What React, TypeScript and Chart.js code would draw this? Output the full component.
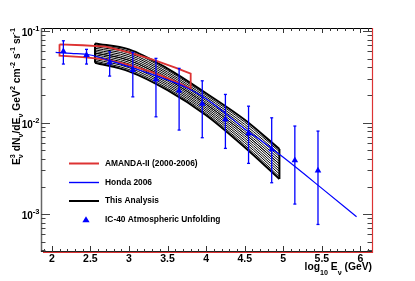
import React, { useEffect, useRef } from "react";
import { Chart, registerables } from "chart.js";

Chart.register(...registerables);

// ---------- data ----------
// IC-40 atmospheric unfolding (log10 E, E^3 dN/dE and error bar ends)
const unfoldLog10E = [2.15, 2.45, 2.75, 3.05, 3.35, 3.65, 3.95, 4.25, 4.55, 4.85, 5.15, 5.45];
const unfoldFlux = [0.06, 0.0547, 0.0451, 0.0375, 0.0297, 0.0223, 0.016, 0.01084, 0.00762, 0.00509, 0.00386, 0.00299];
const unfoldUpper = [0.0783, 0.0631, 0.0594, 0.0585, 0.0503, 0.0391, 0.0286, 0.0203, 0.0151, 0.01127, 0.00916, 0.00807];
const unfoldLower = [0.0436, 0.0436, 0.0322, 0.0191, 0.01156, 0.00828, 0.00683, 0.00522, 0.00358, 0.0022, 0.001286, 0.00077];

// Honda 2006 conventional flux
const hondaLog10E = [2.05, 2.25, 2.5, 2.75, 3.0, 3.25, 3.5, 3.75, 4.0, 4.25, 4.5, 4.75, 5.0, 5.5, 5.95];
const hondaFlux = [0.0586, 0.0571, 0.0547, 0.0476, 0.0407, 0.0347, 0.0292, 0.024, 0.0182, 0.0126, 0.00851, 0.00603, 0.00417, 0.00191, 0.000933];

// AMANDA-II (2000-2006) band
const amandaLog10E = [2.1, 2.4, 2.7, 3.0, 3.3, 3.6, 3.8];
const amandaUpper = [0.0716, 0.07, 0.0676, 0.0586, 0.049, 0.0398, 0.0343];
const amandaLower = [0.0537, 0.0519, 0.049, 0.0427, 0.0355, 0.0282, 0.0234];

// This analysis: set of band outlines (upper / lower edge of each band)
const bandLog10E = [2.56, 3.0, 3.5, 4.0, 4.5, 4.95];
const analysisUpper = [
  [0.0733, 0.0631, 0.0389, 0.0209, 0.01072, 0.00513],
  [0.0704, 0.0603, 0.0372, 0.01995, 0.01012, 0.00482],
  [0.0676, 0.0575, 0.03555, 0.01905, 0.00955, 0.00452],
  [0.0649, 0.055, 0.034, 0.0182, 0.00902, 0.00425],
  [0.0623, 0.0525, 0.0325, 0.01738, 0.00851, 0.00399],
  [0.0599, 0.0501, 0.03105, 0.0166, 0.00804, 0.00375],
  [0.0575, 0.0479, 0.0297, 0.01585, 0.00759, 0.00352],
];
const analysisLower = [
  [0.0575, 0.0479, 0.0297, 0.01585, 0.00759, 0.00352],
  [0.0552, 0.0457, 0.02838, 0.01514, 0.00716, 0.00331],
  [0.053, 0.0437, 0.02712, 0.01445, 0.00676, 0.0031],
  [0.0509, 0.0417, 0.02593, 0.0138, 0.00638, 0.00292],
  [0.0489, 0.0398, 0.02479, 0.01318, 0.00603, 0.00274],
  [0.047, 0.038, 0.02369, 0.01259, 0.00569, 0.00257],
  [0.0451, 0.0363, 0.0226, 0.01202, 0.00537, 0.00242],
];

const xTickLabels = ["2", "2.5", "3", "3.5", "4", "4.5", "5", "5.5", "6"];
const yTickExponents = ["-3", "-2", "-1"];
const legendLabels = ["AMANDA-II (2000-2006)", "Honda 2006", "This Analysis", "IC-40 Atmospheric Unfolding"];

const X_MIN = 1.86;
const X_MAX = 6.15;
const Y_MIN = 3.85e-4;
const Y_MAX = 0.108;

const RED = "#dd3333";
const BLUE = "#0000ff";
const FONT = '"Liberation Sans", Arial, Helvetica, sans-serif';

type Seg = { text: string; sup?: string; sub?: string };

function segsWidth(ctx: CanvasRenderingContext2D, segs: Seg[], size: number, small: number) {
  let w = 0;
  for (const s of segs) {
    ctx.font = `bold ${size}px ${FONT}`;
    w += ctx.measureText(s.text).width;
    ctx.font = `bold ${small}px ${FONT}`;
    const a = s.sup ? ctx.measureText(s.sup).width : 0;
    const b = s.sub ? ctx.measureText(s.sub).width : 0;
    w += Math.max(a, b);
  }
  return w;
}

function drawSegs(
  ctx: CanvasRenderingContext2D,
  segs: Seg[],
  x: number,
  y: number,
  size: number,
  small: number,
  supRaise: number,
  subDrop: number
) {
  let cx = x;
  ctx.textAlign = "left";
  ctx.textBaseline = "alphabetic";
  for (const s of segs) {
    ctx.font = `bold ${size}px ${FONT}`;
    ctx.fillText(s.text, cx, y);
    cx += ctx.measureText(s.text).width;
    ctx.font = `bold ${small}px ${FONT}`;
    let w = 0;
    if (s.sup) {
      ctx.fillText(s.sup, cx, y - supRaise);
      w = Math.max(w, ctx.measureText(s.sup).width);
    }
    if (s.sub) {
      ctx.fillText(s.sub, cx, y + subDrop);
      w = Math.max(w, ctx.measureText(s.sub).width);
    }
    cx += w;
  }
}

function triangle(ctx: CanvasRenderingContext2D, x: number, y: number, r: number) {
  ctx.beginPath();
  ctx.moveTo(x, y - r);
  ctx.lineTo(x + r * 0.95, y + r * 0.6);
  ctx.lineTo(x - r * 0.95, y + r * 0.6);
  ctx.closePath();
  ctx.fill();
}

function line(ctx: CanvasRenderingContext2D, color: string, w: number, x1: number, y1: number, x2: number, y2: number) {
  ctx.strokeStyle = color;
  ctx.lineWidth = w;
  ctx.beginPath();
  ctx.moveTo(x1, y1);
  ctx.lineTo(x2, y2);
  ctx.stroke();
}

const pts = (xs: number[], ys: number[]) => xs.map((x, i) => ({ x, y: ys[i] }));

export default function App() {
  const ref = useRef<HTMLCanvasElement>(null);

  useEffect(() => {
    const canvas = ref.current;
    if (!canvas) return;

    const datasets: any[] = [];
    const nb = analysisUpper.length - 1;
    for (let j = 0; j < analysisUpper.length; j++) {
      datasets.push({
        data: pts(bandLog10E, analysisUpper[j]),
        borderColor: "#000",
        borderWidth: j === 0 ? 2 : 1,
        pointRadius: 0,
        cubicInterpolationMode: "monotone",
        fill: false,
        order: 4,
      });
      datasets.push({
        data: pts(bandLog10E, analysisLower[j]),
        borderColor: "#000",
        borderWidth: j === nb ? 2 : 1,
        pointRadius: 0,
        cubicInterpolationMode: "monotone",
        fill: false,
        order: 4,
      });
    }
    const last = bandLog10E.length - 1;
    datasets.push({
      data: [
        { x: bandLog10E[0], y: analysisUpper[0][0] },
        { x: bandLog10E[0], y: analysisLower[nb][0] },
      ],
      borderColor: "#000",
      borderWidth: 2,
      pointRadius: 0,
      tension: 0,
      order: 4,
    });
    datasets.push({
      data: [
        { x: bandLog10E[last], y: analysisUpper[0][last] },
        { x: bandLog10E[last], y: analysisLower[nb][last] },
      ],
      borderColor: "#000",
      borderWidth: 2,
      pointRadius: 0,
      tension: 0,
      order: 4,
    });
    const amandaPoly = [
      ...pts(amandaLog10E, amandaUpper),
      ...pts(amandaLog10E, amandaLower).reverse(),
      { x: amandaLog10E[0], y: amandaUpper[0] },
    ];
    datasets.push({
      data: amandaPoly,
      borderColor: RED,
      borderWidth: 1.8,
      pointRadius: 0,
      tension: 0,
      fill: false,
      order: 3,
    });
    datasets.push({
      data: pts(hondaLog10E, hondaFlux),
      borderColor: BLUE,
      borderWidth: 1.2,
      pointRadius: 0,
      cubicInterpolationMode: "monotone",
      fill: false,
      order: 2,
    });
    const unfoldIndex = datasets.length;
    datasets.push({
      data: pts(unfoldLog10E, unfoldFlux),
      showLine: false,
      borderColor: BLUE,
      pointStyle: "triangle",
      pointRadius: 3.8,
      pointBackgroundColor: BLUE,
      pointBorderColor: BLUE,
      pointBorderWidth: 0,
      order: 1,
    });

    const overlay = {
      id: "overlay",
      beforeDatasetDraw(chart: any, args: any) {
        if (args.index !== unfoldIndex) return;
        const { ctx, chartArea: a, scales } = chart;
        ctx.save();
        ctx.beginPath();
        ctx.rect(a.left, a.top, a.right - a.left, a.bottom - a.top);
        ctx.clip();
        for (let i = 0; i < unfoldLog10E.length; i++) {
          const px = scales.x.getPixelForValue(unfoldLog10E[i]);
          const t = scales.y.getPixelForValue(unfoldUpper[i]);
          const b = scales.y.getPixelForValue(unfoldLower[i]);
          line(ctx, BLUE, 1.3, px, t, px, b);
          line(ctx, BLUE, 1.3, px - 1.5, t, px + 1.5, t);
          line(ctx, BLUE, 1.3, px - 1.5, b, px + 1.5, b);
        }
        ctx.restore();
      },
      afterDraw(chart: any) {
        const { ctx, chartArea: a, scales } = chart;
        const xs = scales.x;
        const ys = scales.y;
        ctx.save();
        // frame
        line(ctx, "#000", 1.2, a.left, a.top + 0.5, a.right, a.top + 0.5);
        line(ctx, "#666", 1.5, a.left + 0.5, a.top, a.left + 0.5, a.bottom);
        line(ctx, "#222", 1, a.left, a.bottom - 0.5, a.right, a.bottom - 0.5);
        line(ctx, RED, 1, a.left + 2, a.bottom + 0.5, a.right + 1, a.bottom + 0.5);
        line(ctx, RED, 1.2, a.right + 0.5, a.top, a.right + 0.5, a.bottom + 1);

        // ticks
        for (let i = 19; i <= 61; i++) {
          const v = i / 10;
          const px = Math.round(xs.getPixelForValue(v)) + 0.5;
          const major = i % 5 === 0;
          line(ctx, "#333", 1, px, a.bottom, px, a.bottom - (major ? 6 : 3));
          line(ctx, "#333", 1, px, a.top, px, a.top + (major ? 5 : 3));
        }
        for (let e = -4; e <= -1; e++) {
          for (let m = 1; m <= 9; m++) {
            const v = m * Math.pow(10, e);
            if (v < Y_MIN || v > Y_MAX) continue;
            const py = Math.round(ys.getPixelForValue(v)) + 0.5;
            const len = m === 1 ? 9 : 4.5;
            line(ctx, "#444", 1, a.left, py, a.left + len, py);
            line(ctx, "#444", 1, a.right, py, a.right - len, py);
          }
        }

        // x tick labels
        ctx.fillStyle = "#000";
        ctx.font = `bold 10.5px ${FONT}`;
        ctx.textAlign = "center";
        ctx.textBaseline = "alphabetic";
        xTickLabels.forEach((lab) => {
          const px = xs.getPixelForValue(parseFloat(lab));
          ctx.fillText(lab, px, 262);
        });

        // y tick labels
        yTickExponents.forEach((ex) => {
          const py = ys.getPixelForValue(Math.pow(10, parseFloat(ex)));
          const segs: Seg[] = [{ text: "10", sup: ex }];
          const w = segsWidth(ctx, segs, 10, 7.5);
          drawSegs(ctx, segs, 39.5 - w, py + 5.3, 10, 7.5, 5, 3);
        });

        // x title
        const xt: Seg[] = [{ text: "log", sub: "10" }, { text: " E", sub: "\u03bd" }, { text: " (GeV)" }];
        const xw = segsWidth(ctx, xt, 10.3, 7.2);
        drawSegs(ctx, xt, a.right - xw, 270, 10.3, 7.2, 4.5, 4.5);

        // y title
        const yt: Seg[] = [
          { text: "E", sup: "3", sub: "\u03bd" },
          { text: " dN", sub: "\u03bd" },
          { text: "/dE", sub: "\u03bd" },
          { text: " GeV", sup: "2" },
          { text: " cm", sup: "-2" },
          { text: " s", sup: "-1" },
          { text: " sr", sup: "-1" },
        ];
        const yw = segsWidth(ctx, yt, 10.3, 7.2);
        ctx.save();
        ctx.translate(19.5, a.top);
        ctx.rotate(-Math.PI / 2);
        drawSegs(ctx, yt, -yw, 0, 10.3, 7.2, 4.5, 3);
        ctx.restore();

        // legend
        const ly = [163.5, 182.5, 201, 220];
        line(ctx, RED, 2, 69, ly[0], 99, ly[0]);
        line(ctx, BLUE, 1.4, 69, ly[1], 99, ly[1]);
        line(ctx, "#000", 2, 69, ly[2], 99, ly[2]);
        ctx.fillStyle = BLUE;
        triangle(ctx, 86, ly[3], 3.8);
        ctx.fillStyle = "#000";
        ctx.font = `bold 8.4px ${FONT}`;
        ctx.textAlign = "left";
        ctx.textBaseline = "middle";
        legendLabels.forEach((lab, i) => ctx.fillText(lab, 105, ly[i]));
        ctx.restore();
      },
    };

    const chart = new Chart(canvas, {
      type: "line",
      data: { datasets },
      options: {
        responsive: false,
        devicePixelRatio: 1,
        animation: false,
        layout: { padding: { left: 41, right: 43, top: 28, bottom: 29 } },
        plugins: { legend: { display: false }, tooltip: { enabled: false } },
        scales: {
          x: { type: "linear", min: X_MIN, max: X_MAX, display: false },
          y: { type: "logarithmic", min: Y_MIN, max: Y_MAX, display: false },
        },
      },
      plugins: [overlay],
    } as any);

    return () => chart.destroy();
  }, []);

  return (
    <div style={{ position: "absolute", left: 0, top: 0, width: 415, height: 281, background: "#fff" }}>
      <canvas ref={ref} width={415} height={281} style={{ display: "block", width: 415, height: 281 }} />
    </div>
  );
}
